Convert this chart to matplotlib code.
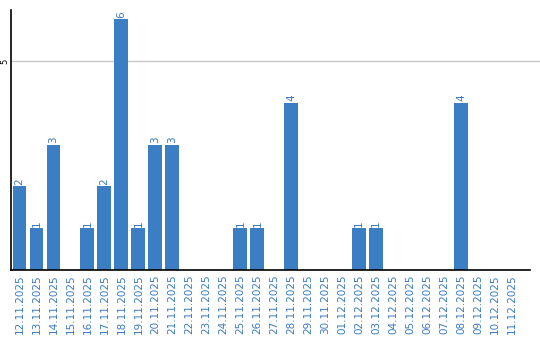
import matplotlib
matplotlib.use("Agg")
import matplotlib.pyplot as plt

dates = ["12.11.2025","13.11.2025","14.11.2025","15.11.2025","16.11.2025","17.11.2025",
         "18.11.2025","19.11.2025","20.11.2025","21.11.2025","22.11.2025","23.11.2025",
         "24.11.2025","25.11.2025","26.11.2025","27.11.2025","28.11.2025","29.11.2025",
         "30.11.2025","01.12.2025","02.12.2025","03.12.2025","04.12.2025","05.12.2025",
         "06.12.2025","07.12.2025","08.12.2025","09.12.2025","10.12.2025","11.12.2025"]
values = [2,1,3,0,1,2,6,1,3,3,0,0,0,1,1,0,4,0,0,0,1,1,0,0,0,0,4,0,0,0]

bar_color = "#3b7ec4"
text_color = "#3a7ac0"

fig = plt.figure(figsize=(5.4, 3.4), dpi=100)
ax = fig.add_axes([11/540, 70/340, 519/540, 260/340])
x = list(range(len(dates)))
bars = ax.bar(x, values, width=0.82, color=bar_color, zorder=2)
ax.set_xlim(-0.5, 30.05)
ax.set_ylim(0, 6.22)
ax.set_yticks([5])
ax.set_yticklabels(["5"], rotation=90, va="center", fontsize=6)
ax.axhline(5, xmin=0, xmax=1.02, color="#c8c8c8", linewidth=1, zorder=0, clip_on=False)
ax.tick_params(axis="y", length=0, pad=1)
ax.set_xticks(x)
ax.set_xticklabels(dates, rotation=90, fontsize=7.5, color=text_color)
ax.tick_params(axis="x", length=0, pad=3)
for s in ["top", "right"]:
    ax.spines[s].set_visible(False)
ax.spines["left"].set_color("black")
ax.spines["bottom"].set_color("black")
ax.spines["left"].set_linewidth(1.2)
ax.spines["bottom"].set_linewidth(1.2)
for xi, v in zip(x, values):
    if v > 0:
        ax.annotate(str(v), (xi, v), xytext=(0, 1), textcoords="offset points",
                    rotation=90, ha="center", va="bottom", fontsize=7.5, color=text_color)
fig.savefig("out.png", dpi=100)
